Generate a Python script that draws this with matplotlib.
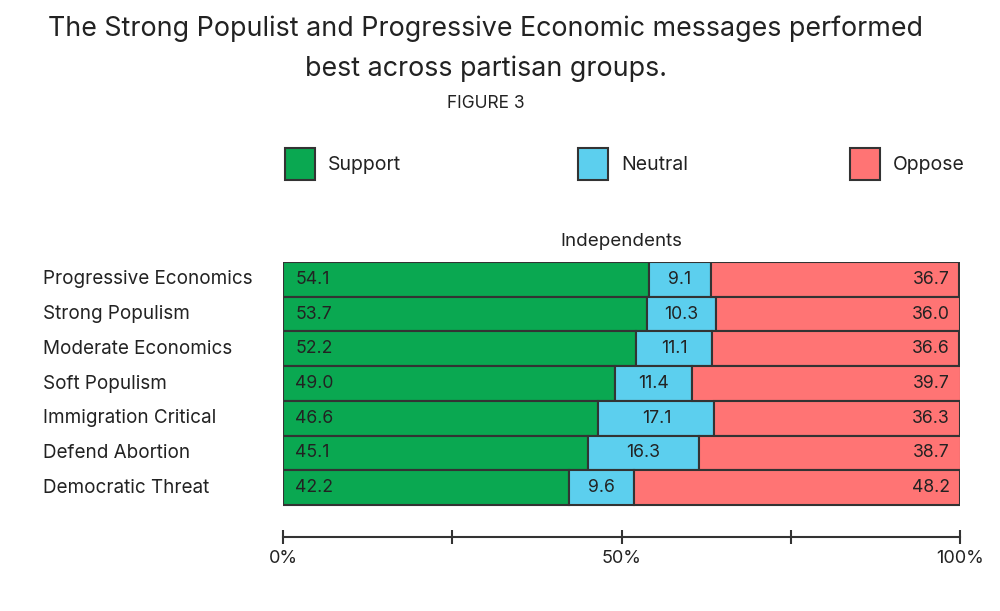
import numpy as np
import matplotlib.pyplot as plt
import matplotlib

matplotlib.rcParams['font.family'] = ['Inter', 'DejaVu Sans']

categories = ['Progressive Economics', 'Strong Populism', 'Moderate Economics',
              'Soft Populism', 'Immigration Critical', 'Defend Abortion',
              'Democratic Threat']
support = np.array([54.1, 53.7, 52.2, 49.0, 46.6, 45.1, 42.2])
neutral = np.array([9.1, 10.3, 11.1, 11.4, 17.1, 16.3, 9.6])
oppose = np.array([36.7, 36.0, 36.6, 39.7, 36.3, 38.7, 48.2])
series_names = ['Support', 'Neutral', 'Oppose']
colors = ['#0aa851', '#5ccfee', '#ff7474']
ink = '#222222'
edge = '#333333'

fig = plt.figure(figsize=(10, 6.11), dpi=100, facecolor='white')
ax = fig.add_axes([0.283, 0.1211, 0.677, 0.450])

y = np.arange(len(categories))
ax.barh(y, support, height=1, color=colors[0], edgecolor=edge, linewidth=1.5)
ax.barh(y, neutral, left=support, height=1, color=colors[1], edgecolor=edge, linewidth=1.5)
ax.barh(y, oppose, left=support + neutral, height=1, color=colors[2], edgecolor=edge, linewidth=1.5)

for i in range(len(categories)):
    ax.text(1.8, y[i], f'{support[i]:.1f}', ha='left', va='center', fontsize=12.7, color=ink)
    ax.text(support[i] + neutral[i] / 2, y[i], f'{neutral[i]:.1f}', ha='center', va='center',
            fontsize=12.7, color=ink)
    ax.text(98.5, y[i], f'{oppose[i]:.1f}', ha='right', va='center', fontsize=12.7, color=ink)

ax.set_xlim(0, 100)
ax.set_ylim(len(categories) - 0.5 + 0.92, -0.5)
ax.set_yticks([])
for s in ['top', 'right', 'left']:
    ax.spines[s].set_visible(False)
ax.spines['bottom'].set_color(edge)
ax.spines['bottom'].set_linewidth(1.5)
ax.spines['bottom'].set_bounds(0, 100)
ax.set_xticks([0, 25, 50, 75, 100])
ax.set_xticklabels(['0%', '', '50%', '', '100%'])
ax.tick_params(axis='x', direction='inout', length=10, width=1.5, color=edge,
               labelsize=13, labelcolor=ink, pad=4)

for i, c in enumerate(categories):
    fig.text(0.043, ax.transData.transform((0, y[i]))[1] / fig.bbox.height, c,
             ha='left', va='center', fontsize=13.6, color=ink)

ax.text(50, -0.85, 'Independents', ha='center', va='bottom', fontsize=13.5, color=ink)

# legend
lx = [0.285, 0.578, 0.850]
for x0, name, col in zip(lx, series_names, colors):
    fig.patches.append(matplotlib.patches.Rectangle((x0, 1 - 180 / 611), 0.030, 32 / 611,
                       transform=fig.transFigure, facecolor=col, edgecolor=edge, linewidth=1.5))
    fig.text(x0 + 0.043, 1 - 165 / 611, name, ha='left', va='center', fontsize=14, color=ink)

fig.text(0.486, 1 - 29 / 611, 'The Strong Populist and Progressive Economic messages performed',
         ha='center', va='center', fontsize=19.3, color=ink)
fig.text(0.486, 1 - 69 / 611, 'best across partisan groups.',
         ha='center', va='center', fontsize=19.3, color=ink)
fig.text(0.486, 1 - 104 / 611, 'FIGURE 3', ha='center', va='center', fontsize=12.5, color=ink)

plt.savefig('out.png', dpi=100, facecolor='white')
